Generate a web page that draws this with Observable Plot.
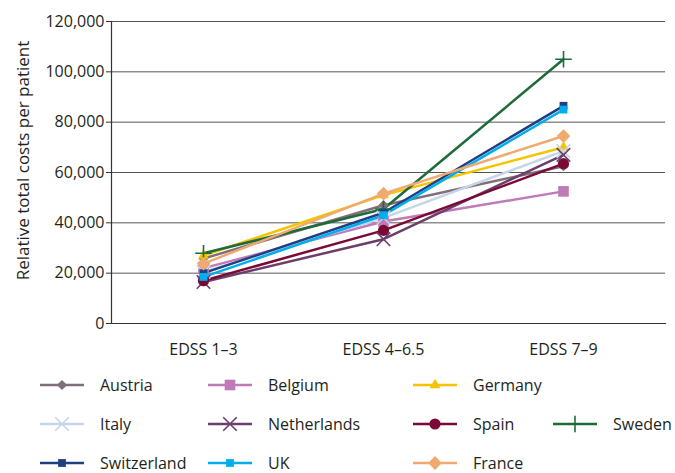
<!DOCTYPE html>
<html>
<head>
<meta charset="utf-8">
<script src="https://cdn.jsdelivr.net/npm/d3@7"></script>
<script src="https://cdn.jsdelivr.net/npm/@observablehq/plot@0.6"></script>
<style>
  body { margin: 0; background: #fff; font-family: "Open Sans", sans-serif; color: #231f20; }
  #chart svg { display: block; }
  #legend { position: relative; width: 675px; height: 108px; font-size: 16px; }
  .item { position: absolute; display: flex; align-items: center; height: 24px; }
  .item span { margin-left: 16px; }
</style>
</head>
<body>
<div id="chart"></div>
<div id="legend"></div>
<script>
const categories = ["EDSS 1–3", "EDSS 4–6.5", "EDSS 7–9"];
const countries = ["Austria", "Belgium", "Germany", "Italy", "Netherlands", "Spain", "Sweden", "Switzerland", "UK", "France"];
const austria     = [25800, 47000, 62500];
const belgium     = [22000, 40500, 52500];
const germany     = [27000, 51000, 70000];
const italy       = [20500, 42000, 68500];
const netherlands = [16500, 33500, 67000];
const spain       = [17000, 37000, 63500];
const sweden      = [27900, 45500, 105000];
const switzerland = [20000, 44000, 86500];
const uk          = [18500, 43000, 85000];
const france      = [23800, 51600, 74500];
const yTicks = [0, 20000, 40000, 60000, 80000, 100000, 120000];

const seriesValues = [austria, belgium, germany, italy, netherlands, spain, sweden, switzerland, uk, france];
const colors = ["#7f6f78", "#c07ab8", "#f5c400", "#c5d5ea", "#6b3f6b", "#7a0a35", "#1e6b3a", "#1f3f80", "#00aeef", "#f0aa70"];
const styles = [
  {symbol: "diamond2", r: 4.6, filled: true},
  {symbol: "square", r: 6.0, filled: true},
  {symbol: "triangle2", r: 5.2, filled: true},
  {symbol: "times", r: 6.2, filled: false},
  {symbol: "times", r: 6.2, filled: false},
  {symbol: "circle", r: 5.6, filled: true},
  {symbol: "plus", r: 5.4, filled: false},
  {symbol: "square", r: 4.4, filled: true},
  {symbol: "square", r: 4.4, filled: true},
  {symbol: "diamond2", r: 6.2, filled: true}
];

const data = countries.flatMap((c, i) => categories.map((cat, j) => ({country: c, category: cat, value: seriesValues[i][j]})));

const dotMarks = countries.map((c, i) => {
  const s = styles[i];
  return Plot.dot(data.filter(d => d.country === c), {
    x: "category", y: "value", symbol: () => s.symbol, r: s.r,
    fill: s.filled ? colors[i] : "none",
    stroke: colors[i],
    strokeWidth: s.filled ? 0 : 1.6
  });
});

const chart = Plot.plot({
  width: 675,
  height: 365,
  marginTop: 21,
  marginBottom: 42,
  marginLeft: 111,
  marginRight: 10,
  style: {fontFamily: "Open Sans, sans-serif", fontSize: "16px", color: "#231f20", background: "#fff"},
  x: {type: "point", domain: categories, range: [203, 563], padding: 0},
  y: {domain: [0, 120000]},
  symbol: {type: "identity"},
  marks: [
    Plot.gridY(yTicks, {stroke: "#555", strokeOpacity: 1, strokeWidth: 1}),
    Plot.frame({anchor: "left", stroke: "#333", strokeWidth: 1.2}),
    Plot.frame({anchor: "bottom", stroke: "#333", strokeWidth: 1.2}),
    Plot.axisY({ticks: yTicks, tickSize: 5, tickPadding: 2, tickFormat: d3.format(","), label: null, stroke: "#333"}),
    Plot.axisX({tickSize: 0, tickPadding: 20, label: null}),
    Plot.text(["Relative total costs per patient"], {frameAnchor: "left", textAnchor: "middle", rotate: -90, dx: -88, dy: -12, fontSize: 17, fill: "#231f20"}),
    Plot.line(data, {x: "category", y: "value", z: "country", stroke: d => colors[countries.indexOf(d.country)], strokeWidth: 2.5}),
    ...dotMarks
  ]
});
document.getElementById("chart").appendChild(chart);

// Legend
const legend = document.getElementById("legend");
const colX = [40, 208, 413, 553];
const rowY = [20, 59, 98];
const layout = [[0,0],[0,1],[0,2],[1,0],[1,1],[1,2],[1,3],[2,0],[2,1],[2,2]];
countries.forEach((c, i) => {
  const [row, col] = layout[i];
  const s = styles[i];
  const div = document.createElement("div");
  div.className = "item";
  div.style.left = colX[col] + "px";
  div.style.top = (rowY[row] - 12) + "px";
  const symMap = {diamond2: d3.symbolDiamond2, square: d3.symbolSquare, triangle2: d3.symbolTriangle2, times: d3.symbolTimes, circle: d3.symbolCircle, plus: d3.symbolPlus};
  const path = d3.symbol(symMap[s.symbol], Math.PI * s.r * s.r)();
  div.innerHTML = `<svg width="44" height="24"><line x1="0" x2="44" y1="12" y2="12" stroke="${colors[i]}" stroke-width="2.5"/>` +
    `<path transform="translate(22,12)" d="${path}" fill="${s.filled ? colors[i] : "none"}" stroke="${colors[i]}" stroke-width="${s.filled ? 0 : 1.6}"/></svg><span>${c}</span>`;
  legend.appendChild(div);
});
</script>
</body>
</html>
